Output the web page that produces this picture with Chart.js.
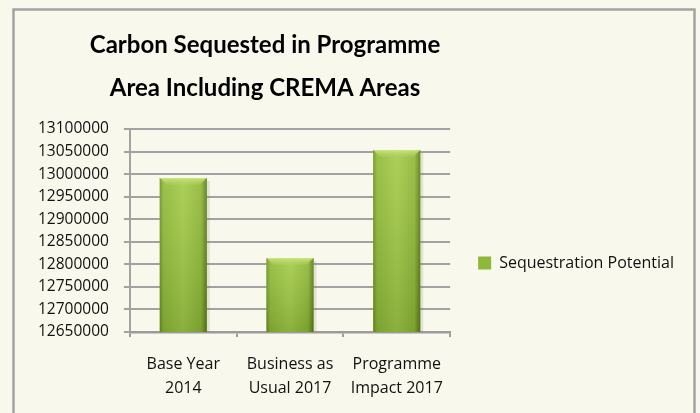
<!DOCTYPE html>
<html>
<head>
<meta charset="utf-8">
<script src="https://cdn.jsdelivr.net/npm/chart.js@4/dist/chart.umd.min.js"></script>
<style>
  html,body{margin:0;padding:0;background:#f8f9ec;}
  #wrap{width:700px;height:413px;position:relative;}
</style>
</head>
<body>
<div id="wrap"><canvas id="carbon-chart" width="700" height="413"></canvas></div>
<script>
const categories=[['Base Year','2014'],['Business as','Usual 2017'],['Programme','Impact 2017']];
const sequestration=[12991400,12814000,13053500];
const titleLines=['Carbon Sequested in Programme','Area Including CREMA Areas'];
const seriesName='Sequestration Potential';
const yMin=12650000, yMax=13100000, yStep=50000;

const FONT='"Open Sans", "DejaVu Sans", sans-serif';
const TITLE_FONT='Lato, "DejaVu Sans", sans-serif';

// background, frame and title
const framePlugin={
  id:'frame',
  beforeDraw(chart){
    const ctx=chart.ctx;
    ctx.save();
    ctx.fillStyle='#f8f9ec';
    ctx.fillRect(0,0,chart.width,chart.height);
    ctx.strokeStyle='#a3a3a3';
    ctx.lineWidth=2.5;
    ctx.strokeRect(13.5,9.5,681,chart.height+10);
    ctx.restore();
  },
  afterDraw(chart){
    const ctx=chart.ctx;
    ctx.save();
    ctx.fillStyle='#000';
    ctx.font='bold 24px '+TITLE_FONT;
    ctx.textAlign='center';
    ctx.textBaseline='alphabetic';
    ctx.fillText(titleLines[0],265,53);
    ctx.fillText(titleLines[1],265,96);
    ctx.restore();
  }
};

// glossy green bars painted over the library's bar elements
const barShade={
  id:'barShade',
  afterDatasetsDraw(chart){
    const ctx=chart.ctx;
    const area=chart.chartArea;
    chart.getDatasetMeta(0).data.forEach(bar=>{
      const p=bar.getProps(['x','y','base','width'],true);
      const base=Math.min(p.base,area.bottom);
      const l=p.x-p.width/2, w=p.width, y=p.y, h=base-y;
      ctx.save();
      // soft shadow on the right
      ctx.fillStyle='rgba(120,120,100,0.18)';
      ctx.fillRect(l+w,y+3,3,h-3);
      const g=ctx.createLinearGradient(l,0,l+w,0);
      g.addColorStop(0,'#6a9022');
      g.addColorStop(0.08,'#8db83a');
      g.addColorStop(0.5,'#a0c94a');
      g.addColorStop(0.88,'#8cb538');
      g.addColorStop(1,'#557a18');
      ctx.fillStyle=g;
      ctx.fillRect(l,y,w,h);
      const vg=ctx.createLinearGradient(0,y,0,base);
      vg.addColorStop(0,'rgba(255,255,190,0.12)');
      vg.addColorStop(1,'rgba(40,60,0,0.18)');
      ctx.fillStyle=vg;
      ctx.fillRect(l,y,w,h);
      const bev=7;
      const tg=ctx.createLinearGradient(0,y,0,y+bev);
      tg.addColorStop(0,'#cbe683');
      tg.addColorStop(1,'rgba(180,215,100,0.2)');
      ctx.fillStyle=tg;
      ctx.beginPath();
      ctx.moveTo(l,y);ctx.lineTo(l+w,y);
      ctx.lineTo(l+w-bev,y+bev);ctx.lineTo(l+bev,y+bev);
      ctx.closePath();ctx.fill();
      ctx.restore();
    });
  }
};

new Chart(document.getElementById('carbon-chart'),{
  type:'bar',
  data:{
    labels:categories,
    datasets:[{
      label:seriesName,
      data:sequestration,
      backgroundColor:'#8db83a',
      borderWidth:0,
      barPercentage:0.44,
      categoryPercentage:1
    }]
  },
  options:{
    responsive:false,
    animation:false,
    devicePixelRatio:1,
    layout:{padding:{top:129,left:23,right:16,bottom:16}},
    plugins:{
      title:{display:false},
      tooltip:{enabled:false},
      legend:{
        position:'right',
        align:'center',
        maxWidth:300,
        labels:{
          boxWidth:13,boxHeight:13,padding:28,
          color:'#111',
          font:{family:FONT,size:16}
        }
      }
    },
    scales:{
      x:{
        grid:{display:true,drawOnChartArea:false,drawTicks:true,tickLength:5,color:'#9c9c9c',lineWidth:2},
        border:{display:true,color:'#9c9c9c',width:2.5},
        ticks:{color:'#111',padding:15,maxRotation:0,font:{family:FONT,size:16,lineHeight:1.5}},
        afterFit(s){s.height=65;}
      },
      y:{
        min:yMin,max:yMax,
        grid:{color:'#a2a2a2',lineWidth:2,tickLength:6},
        border:{display:true,color:'#a2a2a2',width:2},
        ticks:{stepSize:yStep,color:'#111',padding:15,font:{family:FONT,size:15.5},
          callback:v=>String(v)}
      }
    }
  },
  plugins:[framePlugin,barShade]
});
</script>
</body>
</html>
